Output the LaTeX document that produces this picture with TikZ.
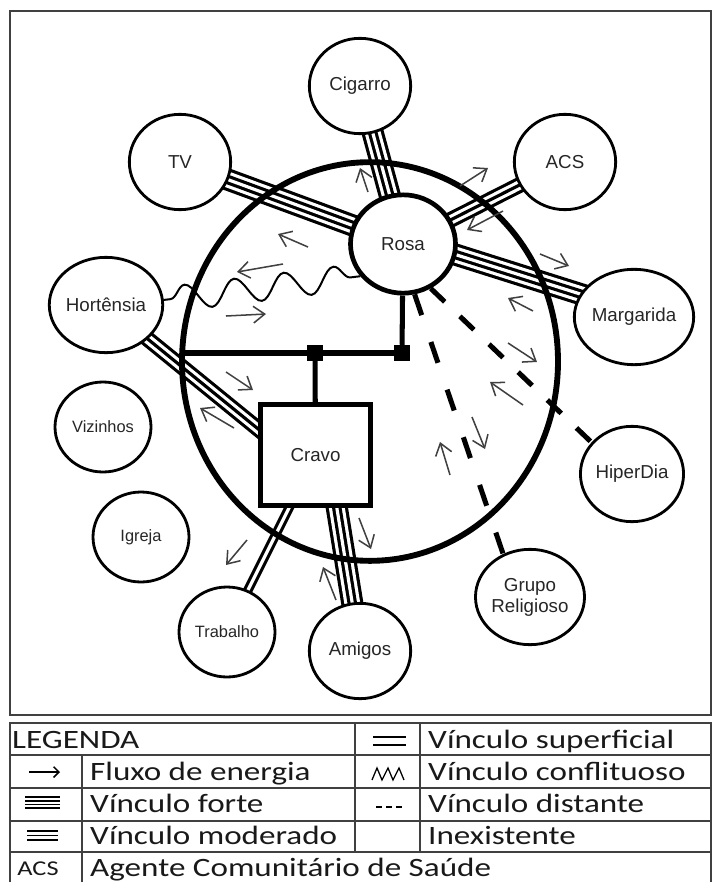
\documentclass[tikz,border=0pt]{standalone}
\usepackage{fontspec}
\setmainfont{Liberation Sans}
\newfontfamily\legfont[FakeStretch=1.25]{Carlito}
\usetikzlibrary{calc,shapes.geometric,arrows.meta,decorations.pathmorphing,backgrounds}
\tikzstyle{pessoa}=[ellipse,draw=black,line width=2.4pt,fill=white,inner sep=0pt,
  minimum width=30.4mm,minimum height=28.6mm,text=black!85,font=\fontsize{16}{18}\selectfont]
\tikzstyle{menor}=[pessoa,minimum width=28.8mm,minimum height=27mm,font=\fontsize{14}{17}\selectfont]
\tikzstyle{central}=[pessoa,line width=4pt,minimum width=31.5mm,minimum height=29.5mm]
\tikzstyle{caixa}=[rectangle,draw=black,line width=4.3pt,fill=white,minimum width=33mm,
  minimum height=30.3mm,text=black!85,font=\fontsize{16}{19}\selectfont]
\tikzstyle{juncao}=[rectangle,fill=black,inner sep=0pt,minimum size=4.8mm]
\tikzstyle{forte}=[draw=black,line width=18.9pt,postaction={draw=white,line width=13.5pt},
  postaction={draw=black,line width=8.1pt},postaction={draw=white,line width=2.7pt}]
\tikzstyle{moderado}=[draw=black,line width=13.5pt,postaction={draw=white,line width=8.1pt},
  postaction={draw=black,line width=2.7pt}]
\tikzstyle{superficial}=[draw=black,line width=8.1pt,postaction={draw=white,line width=2.7pt}]
\tikzstyle{distante}=[line width=4.3pt,dash pattern=on 6.6mm off 8.5mm]
\tikzstyle{conflito}=[line width=1.7pt,decorate,decoration={snake,segment length=15mm,
  amplitude=3.8mm,pre length=2mm,post length=2mm}]
\tikzstyle{familia}=[line width=4.3pt]
\tikzstyle{fluxo}=[draw=black!75,line width=1.3pt,-{Straight Barb[length=3.4mm,width=5mm]}]
\tikzstyle{moldura}=[draw=black!75,line width=1.6pt]
\tikzstyle{legtext}=[anchor=base west,inner sep=0pt,text=black!90,font=\legfont\fontsize{22.6}{26}\selectfont]
\tikzstyle{legsimb}=[line width=1.3pt]
\tikzstyle{none}=[]

\begin{document}
\begin{tikzpicture}[x=0.3mm, y=-0.3mm]
    \useasboundingbox (0,0) rectangle (713,882);
    \begin{pgfonlayer}{background}
        \fill[white] (0,0) rectangle (713,882);
    \end{pgfonlayer}
    % ecomapa
    \node [style=central] (rosa) at (403, 244) {Rosa};
    \node [style=pessoa] (cigarro) at (360, 86) {Cigarro};
    \node [style=pessoa] (tv) at (180, 162) {TV};
    \node [style=pessoa] (acs) at (565, 162) {ACS};
    \node [style=pessoa] (margarida) at (634, 317) {Margarida};
    \node [style=pessoa] (hortensia) at (106, 305) {Hortênsia};
    \node [style=menor] (vizinhos) at (103, 427) {Vizinhos};
    \node [style=menor] (igreja) at (141, 537) {Igreja};
    \node [style=menor] (trabalho) at (227, 632) {Trabalho};
    \node [style=pessoa] (amigos) at (360, 651) {Amigos};
    \node [style=pessoa, align=center] (grupo) at (530, 597) {Grupo\\Religioso};
    \node [style=pessoa] (hiperdia) at (632, 474) {HiperDia};
    \node [style=caixa] (cravo) at (315.5, 455) {Cravo};
    \node [style=juncao] (juncao1) at (315, 353) {};
    \node [style=juncao] (juncao2) at (402, 353) {};
    \coordinate (famesq) at (183, 353);
    \coordinate (cravoesq) at (268, 437);
    \coordinate (cravoinf) at (332, 478);
    \begin{pgfonlayer}{background}
        \draw [style=forte] (cigarro.center) to (rosa.center);
        \draw [style=forte] (tv.center) to (rosa.center);
        \draw [style=moderado] (acs.center) to (rosa.center);
        \draw [style=forte] ($(margarida.center)+(0,-6)$) to ($(rosa.center)+(0,-6)$);
        \draw [style=moderado] (hortensia.center) to (cravoesq);
        \draw [style=superficial] (trabalho.center) to (cravo.center);
        \draw [style=forte] (amigos.center) to (cravoinf);
    \end{pgfonlayer}
    \draw [line width=5pt] (370, 361.5) ellipse [x radius=56.4mm, y radius=59.8mm];
    \draw [style=familia] (famesq) to (juncao2);
    \draw [style=familia] (rosa) to (juncao2);
    \draw [style=familia] (juncao1) to (cravo);
    \draw [style=conflito] (hortensia.5) to (rosa.-143);
    \draw [style=distante, dash pattern=on 5.8mm off 6.3mm] (rosa.-58) to (hiperdia.142);
    \draw [style=distante] (rosa.-77) to (grupo.122);
    % fluxo de energia
    \foreach \xa/\ya/\xb/\yb in {368/192/360/168, 460/186/488/168, 503/211/467/230,
        540/254/569/266, 533/311/508/298, 508/343/537/362, 523/405/490/382,
        450/475/440/442, 472/417/485/449, 308/247/278/234, 283/264/237/272,
        226/316/266/314, 226/372/253/390, 234/428/200/408, 247/540/226/565,
        359/518/371/549, 336/600/323/567}
        \draw [style=fluxo] (\xa, \ya) -- (\xb, \yb);
    \draw [style=moldura] (10, 11) rectangle (711, 715);
    % legenda
    \draw [style=moldura] (10, 882) -- (10, 723) -- (711, 723) -- (711, 882);
    \foreach \y in {755, 788, 821, 852}
        \draw [style=moldura] (10, \y) -- (711, \y);
    \draw [style=moldura] (82, 755) -- (82, 882);
    \draw [style=moldura] (355, 723) -- (355, 852);
    \draw [style=moldura] (420, 723) -- (420, 852);
    \node [style=legtext] (legenda) at (12, 748) {LEGENDA};
    \node [style=legtext] (leg1) at (90, 780) {Fluxo de energia};
    \node [style=legtext] (leg2) at (90, 812) {Vínculo forte};
    \node [style=legtext] (leg3) at (90, 844) {Vínculo moderado};
    \node [style=legtext] (leg4) at (90, 876) {Agente Comunitário de Saúde};
    \node [style=legtext] (leg5) at (428, 748) {Vínculo superficial};
    \node [style=legtext] (leg6) at (428, 780) {Vínculo conflituoso};
    \node [style=legtext] (leg7) at (428, 812) {Vínculo distante};
    \node [style=legtext] (leg8) at (428, 844) {Inexistente};
    \node [style=legtext, anchor=base, font=\legfont\fontsize{18}{20}\selectfont] (legacs) at (38, 875) {ACS};
    \draw [style=legsimb, -{Straight Barb[length=1.6mm,width=3.2mm]}] (29, 772) -- (60, 772);
    \foreach \y in {797, 801, 804.5, 808}
        \draw [line width=1.1pt] (25, \y) -- (60, \y);
    \foreach \y in {831, 835.5, 840}
        \draw [line width=1.4pt] (27, \y) -- (58, \y);
    \foreach \y in {737, 745}
        \draw [line width=1.6pt] (373, \y) -- (406, \y);
    \draw [line width=1.1pt] (372, 780) -- (377, 768) -- (382, 780) -- (388, 768) -- (393, 780) -- (399, 768) -- (404, 780);
    \draw [line width=1.1pt, dash pattern=on 1.9mm off 1.1mm] (376, 807) -- (402, 807);
\end{tikzpicture}
\end{document}
